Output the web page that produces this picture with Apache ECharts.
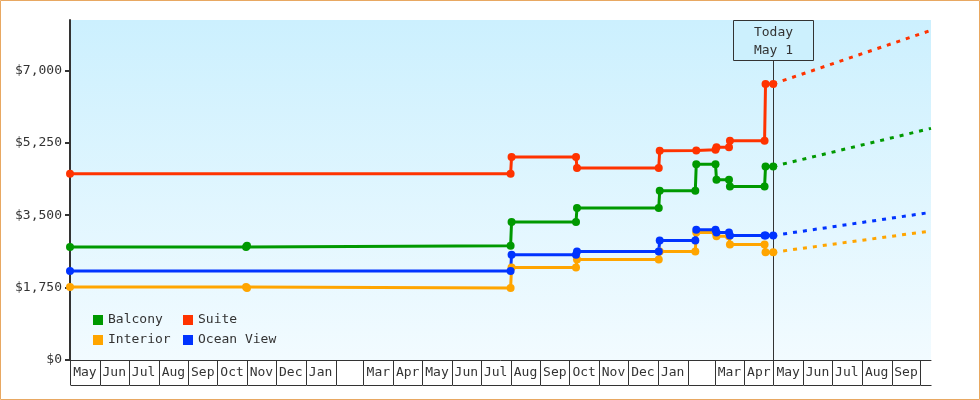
<!DOCTYPE html>
<html><head><meta charset="utf-8">
<script src="https://cdn.jsdelivr.net/npm/echarts@6/dist/echarts.min.js"></script>
<style>html,body{margin:0;padding:0;background:#fff}#c{width:980px;height:400px}</style>
</head><body><div id="c"></div>
<script>
// ---------- data ----------
const seriesNames = ['Balcony', 'Suite', 'Interior', 'Ocean View'];

const balconyDates = ['2023-05-01','2023-10-31','2023-11-01','2024-08-01','2024-08-02','2024-10-08','2024-10-09','2025-01-02','2025-01-03','2025-02-09','2025-02-10','2025-03-02','2025-03-03','2025-03-16','2025-03-17','2025-04-22','2025-04-23','2025-05-01'];
const balconyValues = [2730, 2730, 2760, 2760, 3335, 3335, 3675, 3675, 4090, 4090, 4735, 4735, 4360, 4360, 4195, 4195, 4680, 4680];

const suiteDates = ['2023-05-01','2024-08-01','2024-08-02','2024-10-08','2024-10-09','2025-01-02','2025-01-03','2025-02-10','2025-03-02','2025-03-03','2025-03-16','2025-03-17','2025-04-22','2025-04-23','2025-05-01'];
const suiteValues = [4500, 4500, 4910, 4910, 4640, 4640, 5060, 5065, 5085, 5145, 5145, 5300, 5300, 6675, 6675];

const interiorDates = ['2023-05-01','2023-10-31','2023-11-01','2024-08-01','2024-08-02','2024-10-08','2024-10-09','2025-01-02','2025-01-03','2025-02-09','2025-02-10','2025-03-02','2025-03-03','2025-03-16','2025-03-17','2025-04-22','2025-04-23','2025-05-01'];
const interiorValues = [1765, 1765, 1742, 1742, 2235, 2235, 2430, 2430, 2625, 2625, 3085, 3085, 2990, 2990, 2790, 2790, 2605, 2605];

const oceanViewDates = ['2023-05-01','2024-08-01','2024-08-02','2024-10-08','2024-10-09','2025-01-02','2025-01-03','2025-02-09','2025-02-10','2025-03-02','2025-03-03','2025-03-16','2025-03-17','2025-04-22','2025-04-23','2025-05-01'];
const oceanViewValues = [2150, 2150, 2545, 2545, 2625, 2625, 2890, 2890, 3150, 3150, 3080, 3080, 3010, 3010, 3010, 3010];

// projections: [today value, end value]
const todayDate = '2025-05-01';
const projectionEndDate = '2025-10-12';
const balconyProjection = [4680, 5600];
const suiteProjection = [6675, 7970];
const interiorProjection = [2605, 3120];
const oceanViewProjection = [3010, 3570];

const axisStartDate = '2023-05-01';
const axisEndDate = '2025-10-12';
const monthStarts = ['2023-05-01','2023-06-01','2023-07-01','2023-08-01','2023-09-01','2023-10-01','2023-11-01','2023-12-01','2024-01-01','2024-02-01','2024-03-01','2024-04-01','2024-05-01','2024-06-01','2024-07-01','2024-08-01','2024-09-01','2024-10-01','2024-11-01','2024-12-01','2025-01-01','2025-02-01','2025-03-01','2025-04-01','2025-05-01','2025-06-01','2025-07-01','2025-08-01','2025-09-01','2025-10-01'];
const monthLabels = ['May','Jun','Jul','Aug','Sep','Oct','Nov','Dec','Jan','','Mar','Apr','May','Jun','Jul','Aug','Sep','Oct','Nov','Dec','Jan','','Mar','Apr','May','Jun','Jul','Aug','Sep',''];
const yTickValues = [0, 1750, 3500, 5250, 7000];
const yMax = 8220;
const todayLabel = 'Today\nMay 1';

// ---------- styles ----------
const colors = { 'Balcony': '#009900', 'Suite': '#ff3300', 'Interior': '#ffa500', 'Ocean View': '#0033ff' };
const FONT = '"DejaVu Sans Mono", monospace';
const TXT = '#333';

function toTs(s) { const p = s.split('-').map(Number); return new Date(p[0], p[1] - 1, p[2]).getTime(); }

const raw = {
  'Balcony': [balconyDates, balconyValues, balconyProjection],
  'Suite': [suiteDates, suiteValues, suiteProjection],
  'Interior': [interiorDates, interiorValues, interiorProjection],
  'Ocean View': [oceanViewDates, oceanViewValues, oceanViewProjection]
};

const series = [];
seriesNames.forEach(name => {
  const [ds, vs] = raw[name];
  series.push({
    name, type: 'line', z: 4,
    data: ds.map((d, i) => [toTs(d), vs[i]]),
    symbol: 'circle', symbolSize: 8, showAllSymbol: true,
    lineStyle: { width: 3, color: colors[name] },
    itemStyle: { color: colors[name] }
  });
});
seriesNames.forEach(name => {
  const pr = raw[name][2];
  series.push({
    name: name + ' projection', type: 'line', z: 3,
    data: [[toTs(todayDate), pr[0]], [toTs(projectionEndDate), pr[1]]],
    symbol: 'none',
    lineStyle: { width: 3, type: [4, 6], color: colors[name] }
  });
});

const monthCells = monthStarts.map((d, i) => [toTs(d), i + 1 < monthStarts.length ? toTs(monthStarts[i + 1]) : toTs(axisEndDate)]);

series.push({
  type: 'custom', silent: true, clip: false, z: 1,
  data: monthCells, encode: { x: [0, 1] },
  renderItem(params, api) {
    const a = api.coord([api.value(0), 0]);
    const b = api.coord([api.value(1), 0]);
    const y = a[1];
    const xa = Math.round(a[0]) + 0.5, xb = Math.round(b[0]) + 0.5;
    const ch = [
      { type: 'line', shape: { x1: xa, y1: y, x2: xa, y2: y + 25 }, style: { stroke: TXT, lineWidth: 1 } },
      { type: 'line', shape: { x1: xa, y1: y + 25.5, x2: xb, y2: y + 25.5 }, style: { stroke: TXT, lineWidth: 1 } },
      { type: 'text', style: { text: monthLabels[params.dataIndex], x: (a[0] + b[0]) / 2, y: y + 13, align: 'center', verticalAlign: 'middle', font: '13px ' + FONT, fill: TXT } }
    ];
    return { type: 'group', children: ch };
  }
});

series.push({
  type: 'custom', silent: true, clip: false, z: 2,
  data: [[toTs(todayDate), 0]], encode: { x: 0, y: 1 },
  renderItem(params, api) {
    const p = api.coord([api.value(0), 0]);
    const top = params.coordSys.y;
    const x = Math.round(p[0]) + 0.5;
    const boxH = 40;
    return { type: 'group', children: [
      { type: 'line', shape: { x1: x, y1: top + boxH, x2: x, y2: p[1] }, style: { stroke: TXT, lineWidth: 1 } },
      { type: 'rect', shape: { x: x - 40, y: top + 0.5, width: 80, height: boxH }, style: { fill: '#ccf0fd', stroke: TXT, lineWidth: 1 } },
      { type: 'text', style: { text: todayLabel, x: x, y: top + 1.5 + boxH / 2, align: 'center', verticalAlign: 'middle', lineHeight: 18, font: '13px ' + FONT, fill: TXT } }
    ] };
  }
});

const legendCommon = {
  orient: 'vertical', icon: 'rect', itemWidth: 10, itemHeight: 10, itemGap: 6, top: 313, padding: 0,
  textStyle: { fontFamily: FONT, fontSize: 13, color: TXT, lineHeight: 14 },
  selectedMode: false
};

const chart = echarts.init(document.getElementById('c'), null, { renderer: 'canvas' });
chart.setOption({
  animation: false,
  backgroundColor: '#fff',
  grid: {
    left: 70, right: 49, top: 20, bottom: 40, show: true, borderWidth: 0,
    backgroundColor: { type: 'linear', x: 0, y: 0, x2: 0, y2: 1, colorStops: [{ offset: 0, color: '#ccf0fe' }, { offset: 1, color: '#f2fbff' }] }
  },
  legend: [
    Object.assign({ data: ['Balcony', 'Interior'], left: 93 }, legendCommon),
    Object.assign({ data: ['Suite', 'Ocean View'], left: 183 }, legendCommon)
  ],
  xAxis: {
    type: 'time', min: toTs(axisStartDate), max: toTs(axisEndDate),
    axisLine: { show: true, lineStyle: { color: TXT, width: 1 } },
    axisTick: { show: false }, axisLabel: { show: false }, splitLine: { show: false }
  },
  yAxis: {
    type: 'value', min: 0, max: yMax, interval: 1750,
    axisLine: { show: true, lineStyle: { color: TXT, width: 2 } },
    axisTick: { show: true, length: 5, lineStyle: { color: TXT, width: 2 }, customValues: yTickValues },
    axisLabel: { customValues: yTickValues, margin: 8, color: TXT, fontFamily: FONT, fontSize: 13,
      formatter: v => '$' + Number(v).toLocaleString('en-US') },
    splitLine: { show: false }
  },
  graphic: [{ type: 'rect', z: 100, silent: true, shape: { x: 0.5, y: 0.5, width: 979, height: 399 }, style: { fill: 'none', stroke: '#e8a862', lineWidth: 1 } }],
  series
});
</script></body></html>
